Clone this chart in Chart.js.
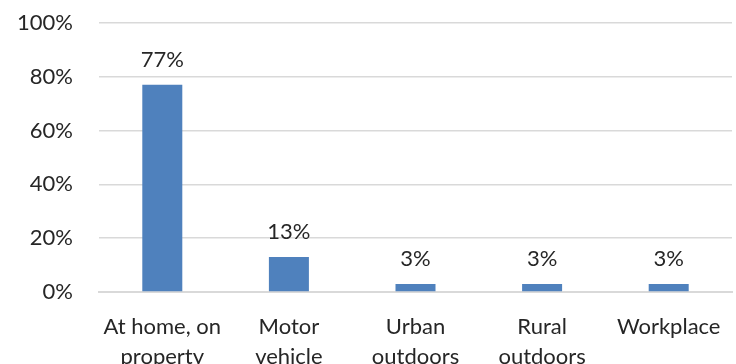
<!DOCTYPE html>
<html>
<head>
<meta charset="utf-8">
<script src="https://cdn.jsdelivr.net/npm/chart.js@4"></script>
<style>
  html, body { margin: 0; padding: 0; background: #fff; }
  #wrap { width: 736px; height: 364px; }
</style>
</head>
<body>
<div id="wrap"><canvas id="chart" width="736" height="364"></canvas></div>
<script>
const categories = [["At home, on", "property"], ["Motor", "vehicle"], ["Urban", "outdoors"], ["Rural", "outdoors"], "Workplace"];
const shares = [77, 13, 3, 3, 3];
const yTicks = [0, 20, 40, 60, 80, 100];

const textColor = "#262626";
const fontFamily = "Lato, 'Open Sans', sans-serif";

// draws the value above each bar
const valueLabels = {
  id: "valueLabels",
  afterDatasetsDraw(chart) {
    const ctx = chart.ctx;
    const meta = chart.getDatasetMeta(0);
    ctx.save();
    ctx.fillStyle = textColor;
    ctx.font = "22px " + fontFamily;
    ctx.textAlign = "center";
    ctx.textBaseline = "middle";
    meta.data.forEach((bar, i) => {
      ctx.fillText(shares[i] + "%", bar.x, bar.y - 25);
    });
    ctx.restore();
  },
};

new Chart(document.getElementById("chart").getContext("2d"), {
  type: "bar",
  data: {
    labels: categories,
    datasets: [
      {
        data: shares,
        backgroundColor: "#4f81bd",
        categoryPercentage: 1,
        barPercentage: 0.316,
      },
    ],
  },
  options: {
    responsive: false,
    animation: false,
    layout: { padding: { top: 23, right: 4, left: 0, bottom: 0 } },
    plugins: { legend: { display: false }, tooltip: { enabled: false } },
    scales: {
      x: {
        grid: { display: false, drawTicks: false },
        border: { color: "#d9d9d9", width: 2 },
        ticks: {
          color: textColor,
          font: { size: 22, family: fontFamily, lineHeight: 1.36 },
          padding: 20,
          maxRotation: 0,
          autoSkip: false,
        },
        afterFit(scale) {
          scale.height = 72;
          scale.paddingLeft = 0;
          scale.paddingRight = 0;
        },
      },
      y: {
        min: 0,
        max: 100,
        afterBuildTicks(scale) { scale.ticks = yTicks.map((v) => ({ value: v })); },
        grid: { color: "#d9d9d9", lineWidth: 1.5, drawTicks: false },
        border: { display: false },
        ticks: {
          color: textColor,
          font: { size: 22, family: fontFamily },
          padding: 26,
          callback: (v) => v + "%",
        },
        afterFit(scale) {
          scale.width = 99;
          scale.paddingTop = 0;
          scale.paddingBottom = 0;
        },
      },
    },
  },
  plugins: [valueLabels],
});
</script>
</body>
</html>
